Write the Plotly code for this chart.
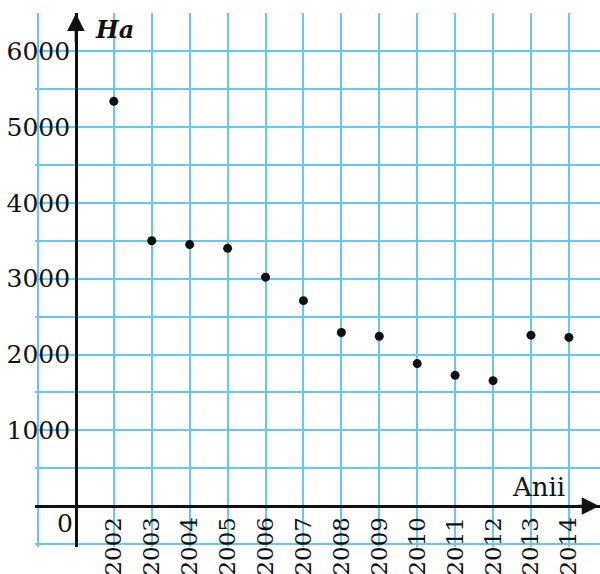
import plotly.graph_objects as go

years = [2002, 2003, 2004, 2005, 2006, 2007, 2008, 2009, 2010, 2011, 2012, 2013, 2014]
hectares = [5340, 3500, 3450, 3400, 3020, 2710, 2290, 2240, 1880, 1725, 1655, 2255, 2225]
y_ticks = [1000, 2000, 3000, 4000, 5000, 6000]

GRID = "#66c8ee"
FONT = "DejaVu Serif"

x_range = [1999.921, 2014.82]
y_range = [-539.5, 6505]

fig = go.Figure()
fig.add_trace(go.Scatter(
    x=years, y=hectares, mode="markers",
    marker=dict(color="#111111", size=9),
    hoverinfo="x+y", showlegend=False,
))

x_tickvals = list(range(2000, 2015))
x_ticktext = ["", ""] + [str(y) for y in years]
y_tickvals = list(range(-500, 6501, 500))
y_ticktext = [str(v) if v in y_ticks else "" for v in y_tickvals]

fig.update_layout(
    width=600, height=574,
    margin=dict(l=35, r=0, t=13, b=27, autoexpand=False),
    paper_bgcolor="white", plot_bgcolor="white",
    font=dict(family=FONT, color="#111111"),
    xaxis=dict(
        range=x_range, tickmode="array", tickvals=x_tickvals, ticktext=x_ticktext,
        tickangle=-90, tickfont=dict(size=23, family=FONT, color="#111111"),
        showgrid=True, gridcolor=GRID, gridwidth=2, zeroline=False,
        showline=True, linecolor="#111111", linewidth=2.5,
        anchor="free", position=(0 - y_range[0]) / (y_range[1] - y_range[0]),
        ticks="", ticklabelstandoff=0,
        automargin=False, fixedrange=True,
    ),
    yaxis=dict(
        range=y_range, tickmode="array", tickvals=y_tickvals, ticktext=y_ticktext,
        tickfont=dict(size=25, family=FONT, color="#111111"),
        showgrid=True, gridcolor=GRID, gridwidth=2, zeroline=False,
        showline=True, linecolor="#111111", linewidth=2.5,
        anchor="free", position=(2001 - x_range[0]) / (x_range[1] - x_range[0]),
        ticks="", ticklabelstandoff=0,
        automargin=False, fixedrange=True,
    ),
)

# axis arrowheads
fig.add_annotation(x=2001, y=6500, ax=2001, ay=6100, xref="x", yref="y",
                   axref="x", ayref="y", text="", showarrow=True,
                   arrowhead=2, arrowsize=1.4, arrowwidth=2.5, arrowcolor="#111111")
fig.add_annotation(x=2014.8, y=0, ax=2014.2, ay=0, xref="x", yref="y",
                   axref="x", ayref="y", text="", showarrow=True,
                   arrowhead=2, arrowsize=1.4, arrowwidth=2.5, arrowcolor="#111111")

# axis labels
fig.add_annotation(x=2001.45, y=6290, xref="x", yref="y", text="<b><i>Ha</i></b>",
                   showarrow=False, xanchor="left", yanchor="middle",
                   font=dict(size=24, family=FONT, color="#111111"))
fig.add_annotation(x=2013.2, y=250, xref="x", yref="y", text="Anii",
                   showarrow=False, xanchor="center", yanchor="middle",
                   font=dict(size=26, family=FONT, color="#111111"))
fig.add_annotation(x=2000.7, y=-230, xref="x", yref="y", text="0",
                   showarrow=False, xanchor="center", yanchor="middle",
                   font=dict(size=25, family=FONT, color="#111111"))

fig.write_html("out.html", post_script="document.body.style.margin='0';",
               config={"displayModeBar": False})
